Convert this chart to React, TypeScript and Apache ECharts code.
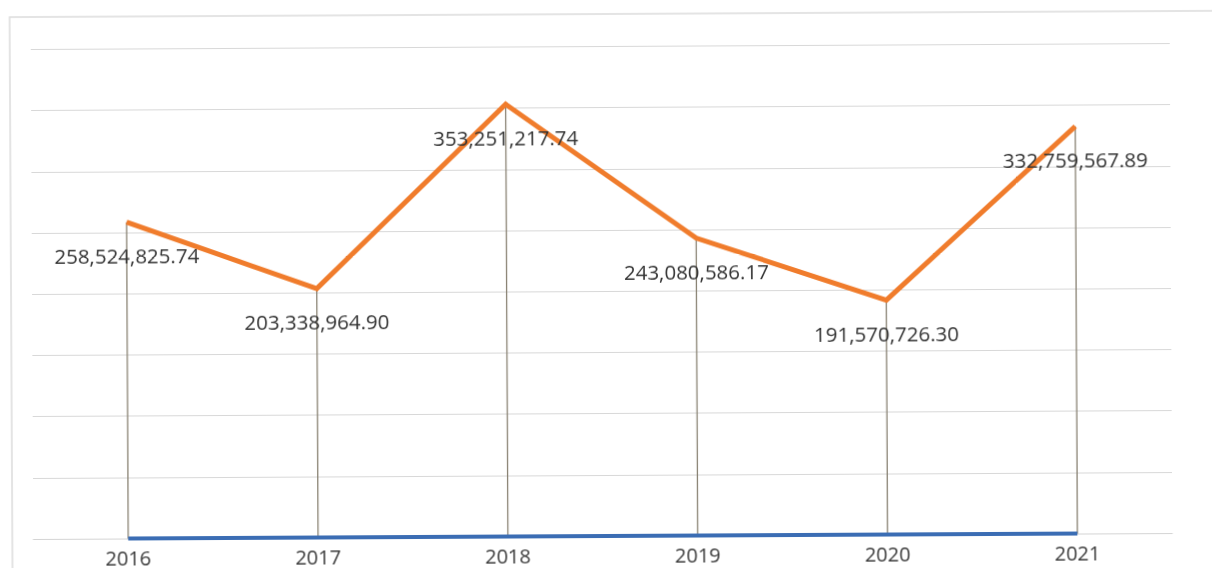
import React, { useEffect, useRef } from "react";
import * as echarts from "echarts";

const years = ["2016", "2017", "2018", "2019", "2020", "2021"];
const amounts = [258524825.74, 203338964.9, 353251217.74, 243080586.17, 191570726.3, 332759567.89];
const baseline = [0, 0, 0, 0, 0, 0];

const fmt = (v: number) =>
  v.toLocaleString("en-US", { minimumFractionDigits: 2, maximumFractionDigits: 2 });

export default function App() {
  const ref = useRef<HTMLDivElement>(null);
  useEffect(() => {
    if (!ref.current) return;
    const chart = echarts.init(ref.current, undefined, { renderer: "svg" });
    chart.setOption({
      animation: false,
      backgroundColor: "#ffffff",
      textStyle: { fontFamily: "Open Sans" },
      graphic: [
        {
          type: "rect",
          shape: { x: 11, y: 14, width: 1400, height: 800 },
          style: { fill: "none", stroke: "#dcdcdc", lineWidth: 1.5 },
          silent: true,
          z: -1,
        },
      ],
      grid: { left: 32, right: 42, top: 46.5, bottom: 32, containLabel: false },
      xAxis: {
        type: "category",
        data: years,
        boundaryGap: true,
        axisLine: { show: true, lineStyle: { color: "#d4d4d4", width: 1 } },
        axisTick: { show: false },
        axisLabel: { fontSize: 20, color: "#3a3a3a", margin: 9, fontFamily: "Open Sans" },
        splitLine: { show: false },
      },
      yAxis: {
        type: "value",
        min: 0,
        max: 400000000,
        interval: 50000000,
        axisLabel: { show: false },
        axisLine: { show: false },
        axisTick: { show: false },
        splitLine: { show: true, lineStyle: { color: "#d8d8d8", width: 1 } },
      },
      series: [
        {
          type: "bar",
          data: amounts,
          barWidth: 1.3,
          itemStyle: { color: "#8a8374" },
          silent: true,
          z: 1,
        },
        {
          type: "line",
          data: baseline,
          symbol: "none",
          lineStyle: { color: "#3b6db4", width: 4 },
          z: 3,
        },
        {
          type: "line",
          data: amounts,
          symbol: "circle",
          symbolSize: 1,
          showSymbol: true,
          itemStyle: { color: "rgba(0,0,0,0)" },
          lineStyle: { color: "#f07c2c", width: 5, join: "miter" },
          label: {
            show: true,
            position: "bottom",
            distance: 22,
            fontSize: 20.5,
            color: "#333333",
            fontFamily: "Open Sans",
            formatter: (p: any) => fmt(p.value),
          },
          z: 4,
        },
      ],
    });
    return () => chart.dispose();
  }, []);
  return (
    <div
      ref={ref}
      style={{
        position: "fixed",
        left: 0,
        top: 0,
        width: 1213,
        height: 568,
        transform: "rotate(-0.3deg)",
        transformOrigin: "50% 50%",
      }}
    />
  );
}
